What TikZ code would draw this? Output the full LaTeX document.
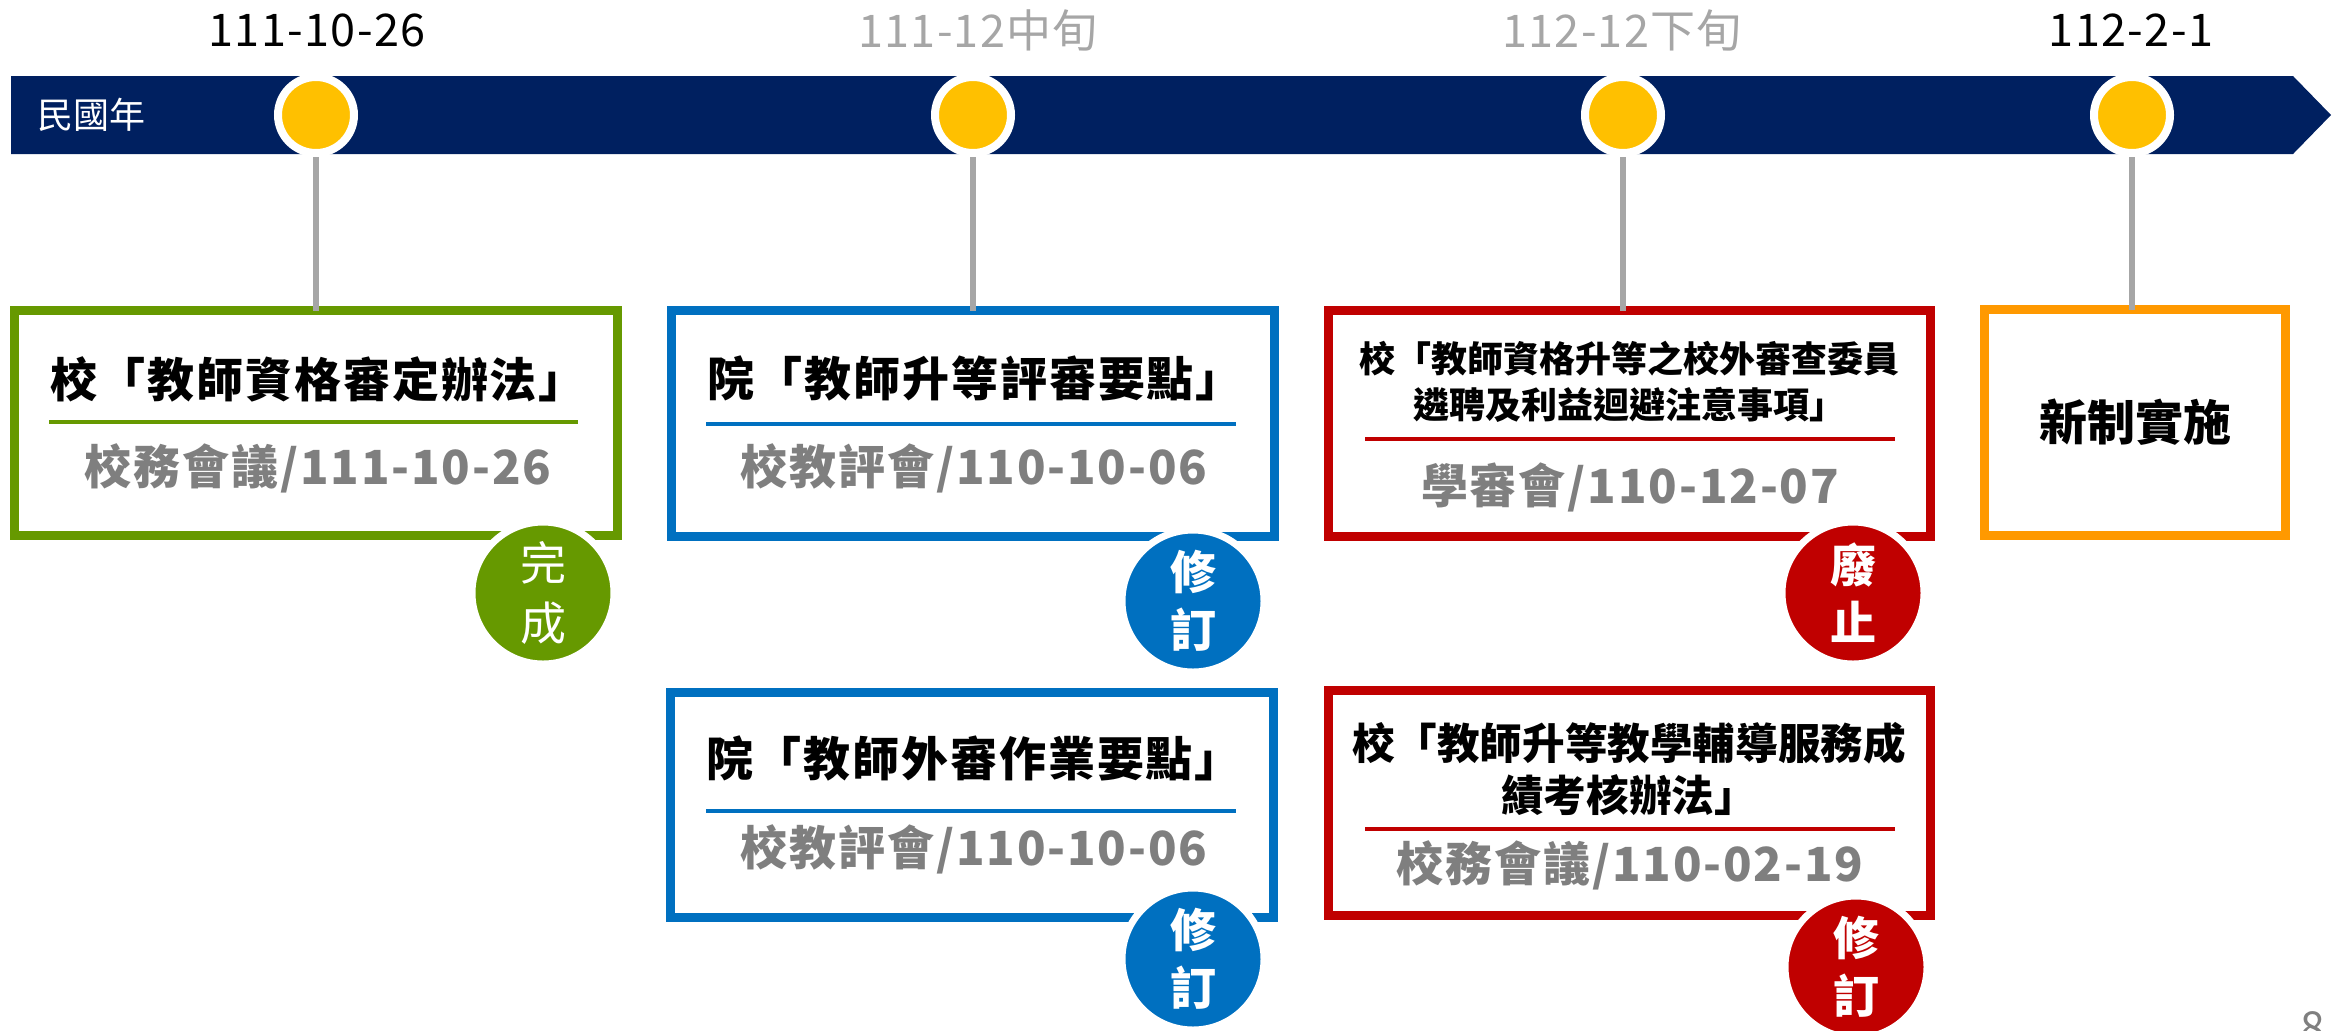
\documentclass[tikz,border=0pt]{standalone}
\usepackage{fontspec}
\setmainfont{Noto Sans CJK TC}
\definecolor{navy}{HTML}{002060}
\definecolor{dotyellow}{HTML}{FFC000}
\definecolor{stemgray}{HTML}{A6A6A6}
\definecolor{subgray}{HTML}{7F7F7F}
\definecolor{okgreen}{HTML}{669900}
\definecolor{revblue}{HTML}{0070C0}
\definecolor{delred}{HTML}{C00000}
\definecolor{neworange}{HTML}{FF9900}
\newcommand\fsz[2]{\fontsize{#1}{#2}\selectfont}
\begin{document}
\begin{tikzpicture}[x=0.5pt,y=-0.5pt,
  box/.style={draw=#1, line width=4.5pt, fill=white, inner sep=0pt, outer sep=0pt, minimum width=301.5pt, minimum height=112.5pt},
  sepline/.style={draw=#1, line width=2.25pt},
  stem/.style={draw=stemgray, line width=3pt},
  dot/.style={circle, fill=dotyellow, draw=white, line width=4pt, minimum size=38pt, inner sep=0pt},
  badge/.style={circle, fill=#1, draw=white, line width=3.5pt, minimum size=71pt, inner sep=0pt, text=white, align=center},
  datelbl/.style={font=\fsz{22.5}{26}\addfontfeature{LetterSpace=3}, text=#1},
  title/.style={font=\fsz{23.5}{28}\bfseries\addfontfeature{LetterSpace=4}, text=black, align=center, inner sep=0pt},
  subtitle/.style={font=\fsz{23.5}{28}\bfseries\addfontfeature{LetterSpace=4}, text=subgray, inner sep=0pt}
]
\useasboundingbox (0,0) rectangle (2346,1030);
% timeline bar
\fill[navy] (11,76) -- (2293,76) -- (2331,115) -- (2293,154) -- (11,154) -- cycle;
\node[font=\fsz{18}{22}, text=white, anchor=west, inner sep=0pt] (era) at (37,115) {民國年};

% date labels
\node[datelbl=black] (d1) at (317,30) {111-10-26};
\node[datelbl=stemgray] (d2) at (978,30) {111-12中旬};
\node[datelbl=stemgray] (d3) at (1622,30) {112-12下旬};
\node[datelbl=black] (d4) at (2131,30) {112-2-1};

% dots
\node[dot] (c1) at (316,115) {};
\node[dot] (c2) at (973,115) {};
\node[dot] (c3) at (1623,115) {};
\node[dot] (c4) at (2132,115) {};

% boxes
\node[box=okgreen] (b1) at (316,423) {};
\node[box=revblue, minimum height=113pt] (b2) at (973,423.5) {};
\node[box=revblue] (b3) at (972,805) {};
\node[box=delred, minimum width=301pt, minimum height=113pt] (b4) at (1629.5,423.5) {};
\node[box=neworange, minimum width=150.5pt, minimum height=113pt] (b5) at (2135,422.5) {};
\node[box=delred, minimum width=301pt] (b6) at (1629.5,803) {};

% stems
\draw[stem] (c1.south) -- (c1.south |- b1.north);
\draw[stem] (c2.south) -- (c2.south |- b2.north);
\draw[stem] (c3.south) -- (c3.south |- b4.north);
\draw[stem] (c4.south) -- (c4.south |- b5.north);

% box 1
\node[title] (t1) at (318,379) {校「教師資格審定辦法」};
\draw[sepline=okgreen] (49,422) -- (578,422);
\node[subtitle] (s1) at (318,468) {校務會議/111-10-26};

% box 2
\node[title] (t2) at (975,378) {院「教師升等評審要點」};
\draw[sepline=revblue] (706,424) -- (1236,424);
\node[subtitle] (s2) at (974,468) {校教評會/110-10-06};

% box 3
\node[title] (t3) at (974,758) {院「教師外審作業要點」};
\draw[sepline=revblue] (706,811) -- (1236,811);
\node[subtitle] (s3) at (974,849) {校教評會/110-10-06};

% box 4
\node[title, font=\fsz{18}{23}\bfseries] (t4) at (1629,382) {校「教師資格升等之校外審查委員\\遴聘及利益迴避注意事項」};
\draw[sepline=delred] (1365,439) -- (1895,439);
\node[subtitle] (s4) at (1630,487) {學審會/110-12-07};

% box 5
\node[title, font=\fsz{24}{28}\bfseries] (t5) at (2135,422) {新制實施};

% box 6
\node[title, font=\fsz{21.3}{26}\bfseries] (t6) at (1629,769) {校「教師升等教學輔導服務成\\績考核辦法」};
\draw[sepline=delred] (1365,829) -- (1895,829);
\node[subtitle] (s6) at (1630,865) {校務會議/110-02-19};

% badges
\node[badge=okgreen, font=\fsz{23}{30}] (g1) at (543,593) {完\\成};
\node[badge=revblue, font=\fsz{23}{29}\bfseries] (g2) at (1193,601) {修\\訂};
\node[badge=revblue, font=\fsz{23}{29}\bfseries] (g3) at (1193,959) {修\\訂};
\node[badge=delred, font=\fsz{23}{29}\bfseries] (g4) at (1853,593) {廢\\止};
\node[badge=delred, font=\fsz{23}{29}\bfseries] (g6) at (1856,967) {修\\訂};

% page number
\node[font=\fsz{22}{26}, text=subgray] (pg) at (2313,1028) {8};
\end{tikzpicture}
\end{document}
